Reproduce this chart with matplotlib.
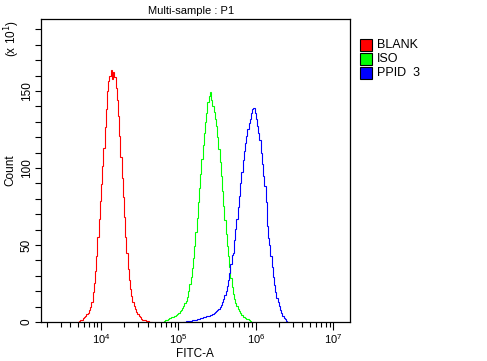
import numpy as np
import matplotlib
matplotlib.use("Agg")
import matplotlib.pyplot as plt
from matplotlib.ticker import LogLocator, MultipleLocator, NullFormatter
from matplotlib.patches import Rectangle

plt.rcParams['font.family'] = ['Liberation Sans', 'DejaVu Sans']

# Histogram channels: log10 bin edges are k/64 decades
bin_per_decade = 64

blank_start = 237
blank_counts = [0.1, 0.6, 1.1, 1.6, 2.4, 3.2, 4.0, 4.9, 5.8, 7.8, 9.9, 13.2, 19.5,
                25.5, 33, 43, 55, 67, 78.5, 89.5, 101, 113, 126.5, 138.5, 150,
                156.5, 160, 163.5, 158, 162, 159, 152, 144, 134, 120.5, 107, 93.5,
                81, 68, 55, 44.5, 34.5, 27, 21.3, 16.8, 13.2, 10.5, 8.5, 6.5, 5.3,
                4.1, 3.0, 2.2, 1.6, 1.2, 1.0, 0.7, 0.6, 0.4, 0.3, 0]

iso_start = 307
iso_counts = [0.2, 0.6, 1.0, 1.4, 1.8, 2.3, 2.7, 3.1, 3.5, 3.9, 4.2, 4.6, 5.3, 6.0,
              6.9, 8.1, 9.3, 10.6, 12.1, 13.8, 16.5, 20.3, 24.8, 29.4, 34.9, 41.5,
              49.3, 58.4, 67.8, 77.8, 87, 96, 105.5, 115, 123, 130, 136, 142.5,
              147, 149.5, 144, 140.5, 136.5, 132, 127.5, 120, 112.5, 104, 94.5, 85,
              75.5, 66.5, 57, 49.5, 43, 35.5, 28.5, 23, 18.5, 15.2, 12.5, 10.2,
              8.7, 7.3, 6.1, 4.8, 3.5, 3.0, 2.5, 2.1, 1.7, 1.2, 0.7, 0.2]

ppid_start = 324
ppid_counts = [0.2, 0.3, 0.4, 0.5, 0.7, 0.8, 0.9, 1.0, 1.2, 1.3, 1.5, 1.7, 1.9, 2.2,
               2.6, 2.8, 3.1, 3.3, 3.5, 3.8, 4.0, 4.2, 4.4, 4.5, 5.0, 5.6, 6.2,
               6.9, 7.8, 8.7, 9.8, 11.2, 13.1, 15.2, 17.5, 20.0, 23.2, 27, 31.5,
               37.5, 43.6, 45, 53, 60.5, 67, 74.5, 82, 90, 97.5, 105, 111, 116,
               120.5, 125.5, 129, 132, 135.5, 138, 139, 135.5, 132, 127.5, 123,
               118, 110, 102.5, 95, 88.5, 78, 62, 54.5, 50, 43, 36, 29.4, 24, 19.5,
               15.8, 12.7, 10.3, 8.0, 5.7, 4.2, 2.8, 1.8, 0.8, 0.3]

series_names = ["BLANK", "ISO", "PPID  3"]
series_colors = ["#ff0000", "#00ff00", "#0000ff"]

fig = plt.figure(figsize=(4.87, 3.61), dpi=100)
ax = fig.add_axes([41/487, 39/361, 309/487, 303/361])

for start, counts, color in [(blank_start, blank_counts, series_colors[0]),
                             (iso_start, iso_counts, series_colors[1]),
                             (ppid_start, ppid_counts, series_colors[2])]:
    k = np.arange(start, start + len(counts) + 1)
    edges = 10.0 ** (k / bin_per_decade)
    ax.stairs(counts, edges, color=color, linewidth=0.8, baseline=None)

ax.set_xscale('log')
ax.set_xlim(10**3.225, 10**7.216)
ax.set_ylim(0, 196.7)

ax.xaxis.set_major_locator(LogLocator(base=10, numticks=10))
ax.xaxis.set_minor_locator(LogLocator(base=10, subs=np.arange(2, 10), numticks=20))
ax.xaxis.set_minor_formatter(NullFormatter())
ax.yaxis.set_major_locator(MultipleLocator(50))
ax.yaxis.set_minor_locator(MultipleLocator(10))

ax.tick_params(axis='x', which='major', length=6, width=0.8, labelsize=8, pad=1.5)
ax.tick_params(axis='x', which='minor', length=3.5, width=0.8)
ax.tick_params(axis='y', which='both', length=4, width=0.8, labelsize=8.5, pad=2)
for lab in ax.get_yticklabels():
    lab.set_rotation(90)
    lab.set_va('center')

for s in ax.spines.values():
    s.set_linewidth(0.9)

fig.text(191/487, 1 - 11/361, "Multi-sample : P1", ha='center', va='center', fontsize=8)
fig.text(12/487, 1 - 38/361, "(x 10$^{1}$)", ha='center', va='center', rotation=90, fontsize=8.5)
fig.text(10/487, 1 - 170/361, "Count", ha='center', va='center', rotation=90, fontsize=8.5)
fig.text(195/487, 1 - 354/361, "FITC-A", ha='center', va='center', fontsize=8.5)

# legend
for i, (name, color) in enumerate(zip(series_names, series_colors)):
    yc = 45 + i * 14
    fig.patches.append(Rectangle((360/487, 1 - (yc + 6)/361), 12/487, 12/361,
                                 transform=fig.transFigure, facecolor=color,
                                 edgecolor='black', linewidth=0.8))
    fig.text(377/487, 1 - yc/361, name, ha='left', va='center', fontsize=9)

fig.savefig("out.png", dpi=100)
